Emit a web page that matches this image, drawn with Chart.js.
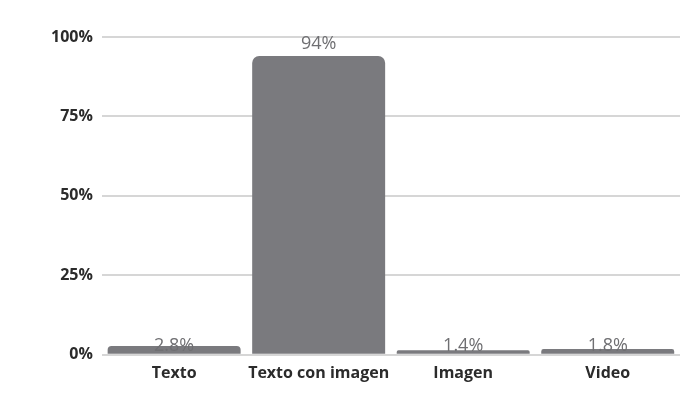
<!DOCTYPE html>
<html>
<head>
<meta charset="utf-8">
<script src="https://cdn.jsdelivr.net/npm/chart.js@4/dist/chart.umd.min.js"></script>
<style>
  html, body { margin: 0; padding: 0; background: #fff; }
  #wrap { width: 694px; height: 406px; }
</style>
</head>
<body>
<div id="wrap"><canvas id="formatChart"></canvas></div>
<script>
// Formato de publicación (porcentaje)
var categories = ['Texto', 'Texto con imagen', 'Imagen', 'Video'];
var values = [2.8, 94, 1.4, 1.8];
var valueLabels = ['2.8%', '94%', '1.4%', '1.8%'];
var yTicks = [0, 25, 50, 75, 100];

// etiquetas de valor sobre cada barra
var valueLabelPlugin = {
    id: 'valueLabels',
    afterDatasetsDraw: function(chart) {
        var ctx = chart.ctx;
        var meta = chart.getDatasetMeta(0);
        ctx.save();
        ctx.font = '18px "Open Sans"';
        ctx.fillStyle = '#6f6f72';
        ctx.textAlign = 'center';
        ctx.textBaseline = 'alphabetic';
        meta.data.forEach(function(bar, i) {
            var h = bar.base - bar.y;
            // barras muy bajas: la etiqueta se apoya sobre la línea base
            var y = h < 20 ? bar.base - 3 : bar.y - 7;
            ctx.fillText(valueLabels[i], bar.x, y);
        });
        ctx.restore();
    }
};

var ctx = document.getElementById('formatChart').getContext('2d');
var chart = new Chart(ctx, {
    type: 'bar',
    data: {
        labels: categories,
        datasets: [{
            data: values,
            backgroundColor: '#7a7a7e',
            borderRadius: 7,
            barPercentage: 0.92,
            categoryPercentage: 1
        }]
    },
    options: {
        responsive: true,
        maintainAspectRatio: false,
        animation: false,
        layout: { padding: { top: 37, right: 14, bottom: 14, left: 42 } },
        plugins: {
            legend: { display: false },
            tooltip: { enabled: false }
        },
        scales: {
            x: {
                grid: { display: false, drawTicks: false },
                border: { display: false },
                ticks: {
                    color: '#2b2b2b',
                    padding: 9,
                    minRotation: 0,
                    maxRotation: 0,
                    autoSkip: false,
                    font: { family: '"Open Sans"', size: 16, weight: 'bold' }
                }
            },
            y: {
                min: 0,
                max: 100,
                afterBuildTicks: function(axis) {
                    axis.ticks = yTicks.map(function(v) { return { value: v }; });
                },
                grid: { color: '#d6d6d6', lineWidth: 2, drawTicks: false },
                border: { display: false },
                ticks: {
                    color: '#2b2b2b',
                    padding: 9,
                    font: { family: '"Open Sans"', size: 16, weight: 'bold' },
                    callback: function(v) { return v + '%'; }
                }
            }
        }
    },
    plugins: [valueLabelPlugin]
});
</script>
</body>
</html>
